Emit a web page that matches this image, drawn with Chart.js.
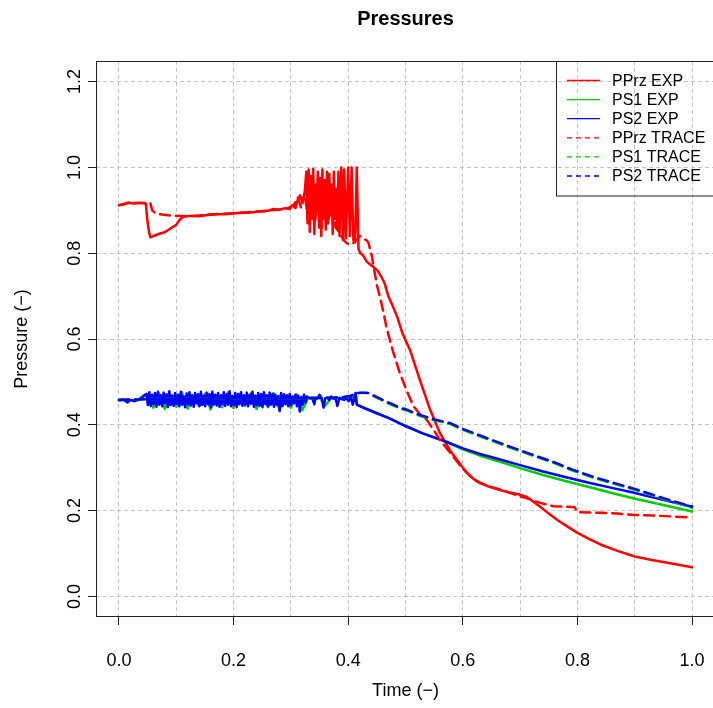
<!DOCTYPE html>
<html>
<head>
<meta charset="utf-8">
<script src="https://cdn.jsdelivr.net/npm/chart.js@4.4.1/dist/chart.umd.min.js"></script>
<style>
  html, body { margin: 0; padding: 0; background: #fff; overflow: hidden; }
  #wrap { position: absolute; left: 0; top: 0; width: 716px; height: 708px; }
</style>
</head>
<body>
<div id="wrap"><canvas id="pressChart" width="716" height="708"></canvas></div>
<script>
// Rótulos dos eixos
const xTickLabels = [0, 0.2, 0.4, 0.6, 0.8, 1.0];
const yTickLabels = [0, 0.2, 0.4, 0.6, 0.8, 1.0, 1.2];
const seriesNames = ['PPrz EXP', 'PS1 EXP', 'PS2 EXP', 'PPrz TRACE', 'PS1 TRACE', 'PS2 TRACE'];

// PPrz EXP (tempo, pressão)
const ppExpT = [0, 0.008, 0.016, 0.024, 0.032, 0.040, 0.047, 0.048, 0.050, 0.053,
  0.055, 0.060, 0.066, 0.072, 0.080, 0.088, 0.095, 0.100, 0.106, 0.112,
  0.125, 0.140, 0.155, 0.170, 0.185, 0.200, 0.215, 0.230, 0.245, 0.260,
  0.270, 0.280, 0.290, 0.298, 0.303, 0.308, 0.312, 0.316, 0.320, 0.324,
  0.327, 0.329, 0.331, 0.333, 0.335, 0.337, 0.339, 0.341, 0.343, 0.345,
  0.347, 0.349, 0.351, 0.353, 0.355, 0.357, 0.359, 0.361, 0.363, 0.365,
  0.367, 0.369, 0.371, 0.373, 0.375, 0.377, 0.379, 0.381, 0.383, 0.385,
  0.388, 0.391, 0.393, 0.396, 0.400, 0.403, 0.406, 0.409, 0.412, 0.415, 0.418,
  0.421, 0.426, 0.432, 0.440, 0.446, 0.452, 0.458, 0.464, 0.470, 0.478,
  0.486, 0.495, 0.508, 0.525, 0.543, 0.560, 0.577, 0.590, 0.600, 0.610,
  0.618, 0.625, 0.635, 0.645, 0.655, 0.668, 0.682, 0.697, 0.712, 0.722,
  0.735, 0.750, 0.765, 0.780, 0.800, 0.820, 0.840, 0.870, 0.900, 0.930, 0.960, 1.000];
const ppExpP = [0.912, 0.914, 0.918, 0.916, 0.917, 0.917, 0.916, 0.900, 0.872, 0.846,
  0.837, 0.840, 0.843, 0.846, 0.849, 0.856, 0.862, 0.866, 0.878, 0.885,
  0.887, 0.886, 0.889, 0.891, 0.891, 0.893, 0.894, 0.895, 0.897, 0.899,
  0.903, 0.901, 0.905, 0.903, 0.912, 0.905, 0.925, 0.935, 0.918, 0.940,
  0.990, 0.870, 0.995, 0.850, 0.980, 0.880, 0.997, 0.845, 0.960, 0.900,
  0.990, 0.860, 0.975, 0.840, 0.995, 0.880, 0.970, 0.855, 0.990, 0.870,
  0.985, 0.900, 0.960, 0.845, 0.990, 0.880, 0.950, 0.860, 0.990, 0.840,
  1.000, 0.830, 0.995, 0.835, 1.000, 0.840, 1.000, 0.830, 0.825, 1.000, 0.810,
  0.800, 0.795, 0.781, 0.772, 0.766, 0.758, 0.745, 0.728, 0.700, 0.676,
  0.650, 0.612, 0.574, 0.505, 0.435, 0.381, 0.342, 0.318, 0.300, 0.284,
  0.275, 0.268, 0.262, 0.256, 0.252, 0.247, 0.242, 0.238, 0.232, 0.222,
  0.209, 0.193, 0.178, 0.165, 0.148, 0.134, 0.121, 0.106, 0.093, 0.085, 0.078, 0.068];

// PS1 EXP
const ps1ExpT = [0, 0.020, 0.035, 0.040, 0.045,
  0.050, 0.060, 0.070, 0.080, 0.090, 0.100, 0.110, 0.120, 0.130, 0.140,
  0.150, 0.160, 0.170, 0.180, 0.190, 0.200, 0.210, 0.220, 0.230, 0.240,
  0.250, 0.260, 0.270, 0.280, 0.290, 0.300, 0.310, 0.320, 0.330,
  0.335, 0.350, 0.360, 0.370, 0.380, 0.390, 0.400, 0.410, 0.413,
  0.415, 0.430, 0.450, 0.470, 0.502, 0.530, 0.570, 0.600, 0.630, 0.665,
  0.700, 0.740, 0.782, 0.820, 0.860, 0.897, 0.940, 1.000];
const ps1ExpP = [0.457, 0.457, 0.458, 0.466, 0.470,
  0.470, 0.440, 0.474, 0.437, 0.468, 0.442, 0.476, 0.438, 0.466, 0.443,
  0.472, 0.436, 0.469, 0.441, 0.475, 0.439, 0.467, 0.444, 0.473, 0.437,
  0.470, 0.441, 0.474, 0.436, 0.466, 0.440, 0.471, 0.434, 0.462,
  0.462, 0.463, 0.445, 0.462, 0.463, 0.460, 0.462, 0.465, 0.474,
  0.447, 0.438, 0.427, 0.416, 0.396, 0.380, 0.361, 0.343, 0.328, 0.314,
  0.299, 0.283, 0.268, 0.255, 0.241, 0.229, 0.216, 0.198];

// PS2 EXP
const ps2ExpT = [0, 0.008, 0.015, 0.020, 0.028, 0.034, 0.040, 0.044,
  0.0480, 0.0505, 0.0530, 0.0555, 0.0580, 0.0605, 0.0630, 0.0655, 0.0680, 0.0705,
  0.0730, 0.0755, 0.0780, 0.0805, 0.0830, 0.0855, 0.0880, 0.0905, 0.0930, 0.0955,
  0.0980, 0.1005, 0.1030, 0.1055, 0.1080, 0.1105, 0.1130, 0.1155, 0.1180, 0.1205,
  0.1230, 0.1255, 0.1280, 0.1305, 0.1330, 0.1355, 0.1380, 0.1405, 0.1430, 0.1455,
  0.1480, 0.1505, 0.1530, 0.1555, 0.1580, 0.1605, 0.1630, 0.1655, 0.1680, 0.1705,
  0.1730, 0.1755, 0.1780, 0.1805, 0.1830, 0.1855, 0.1880, 0.1905, 0.1930, 0.1955,
  0.1980, 0.2005, 0.2030, 0.2055, 0.2080, 0.2105, 0.2130, 0.2155, 0.2180, 0.2205,
  0.2230, 0.2255, 0.2280, 0.2305, 0.2330, 0.2355, 0.2380, 0.2405, 0.2430, 0.2455,
  0.2480, 0.2505, 0.2530, 0.2555, 0.2580, 0.2605, 0.2630, 0.2655, 0.2680, 0.2705,
  0.2730, 0.2755, 0.2780, 0.2805, 0.2830, 0.2855, 0.2880, 0.2905, 0.2930, 0.2955,
  0.2980, 0.3005, 0.3030, 0.3055, 0.3080, 0.3105, 0.3130, 0.3155, 0.3180, 0.3205,
  0.3230, 0.3255, 0.3280,
  0.333, 0.337, 0.341, 0.343, 0.346, 0.350, 0.354, 0.357, 0.360, 0.364,
  0.367, 0.370, 0.374, 0.378, 0.381, 0.385, 0.389, 0.393, 0.397, 0.401,
  0.405, 0.408, 0.411, 0.413,
  0.415, 0.430, 0.450, 0.470, 0.502, 0.530, 0.570, 0.600, 0.630, 0.665,
  0.700, 0.740, 0.782, 0.820, 0.860, 0.897, 0.940, 1.000];
const ps2ExpP = [0.458, 0.459, 0.452, 0.458, 0.455, 0.459, 0.462, 0.468,
  0.472, 0.446, 0.476, 0.444, 0.470, 0.448, 0.474, 0.442, 0.477, 0.447,
  0.469, 0.443, 0.475, 0.450, 0.471, 0.441, 0.478, 0.446, 0.468, 0.444,
  0.474, 0.449, 0.470, 0.443, 0.477, 0.447, 0.466, 0.441, 0.473, 0.448,
  0.476, 0.445, 0.469, 0.442, 0.474, 0.450, 0.471, 0.444, 0.477, 0.446,
  0.468, 0.443, 0.475, 0.448, 0.472, 0.441, 0.477, 0.447, 0.470, 0.445,
  0.474, 0.442, 0.469, 0.449, 0.476, 0.444, 0.471, 0.447, 0.478, 0.443,
  0.467, 0.446, 0.474, 0.441, 0.472, 0.448, 0.476, 0.444, 0.469, 0.447,
  0.475, 0.443, 0.470, 0.449, 0.477, 0.442, 0.468, 0.446, 0.474, 0.444,
  0.471, 0.441, 0.476, 0.448, 0.469, 0.443, 0.475, 0.447, 0.472, 0.442,
  0.470, 0.446, 0.467, 0.432, 0.474, 0.444, 0.471, 0.448, 0.469, 0.443,
  0.472, 0.446, 0.466, 0.450, 0.470, 0.443, 0.468, 0.431, 0.465, 0.447,
  0.470, 0.452, 0.466,
  0.462, 0.463, 0.448, 0.462, 0.461, 0.470, 0.462, 0.440, 0.462, 0.463,
  0.458, 0.466, 0.461, 0.462, 0.444, 0.463, 0.460, 0.458, 0.462, 0.455,
  0.465, 0.447, 0.462, 0.474,
  0.447, 0.438, 0.427, 0.416, 0.396, 0.380, 0.361, 0.345, 0.332, 0.319,
  0.306, 0.291, 0.277, 0.265, 0.253, 0.242, 0.228, 0.209];

// PPrz TRACE
const ppTraceT = [0, 0.010, 0.020, 0.030, 0.045, 0.055, 0.058, 0.064, 0.075, 0.090,
  0.100, 0.120, 0.140, 0.160, 0.180, 0.200, 0.220, 0.240, 0.260, 0.280,
  0.295, 0.305,
  0.312, 0.318, 0.324, 0.330, 0.336, 0.342, 0.348, 0.354, 0.360, 0.366,
  0.372, 0.378, 0.384, 0.390,
  0.396, 0.402, 0.408, 0.414, 0.420, 0.426, 0.432, 0.435, 0.441, 0.444,
  0.450, 0.456, 0.462, 0.467, 0.478, 0.490, 0.502, 0.514, 0.525, 0.537,
  0.548, 0.560, 0.572, 0.583, 0.595, 0.607, 0.618, 0.630, 0.648, 0.665,
  0.683, 0.700, 0.718, 0.735, 0.758, 0.780, 0.795, 0.800, 0.840, 0.870,
  0.900, 0.940, 0.970, 1.000];
const ppTraceP = [0.912, 0.915, 0.918, 0.917, 0.917, 0.916, 0.900, 0.893, 0.890, 0.888,
  0.887, 0.886, 0.888, 0.890, 0.892, 0.893, 0.895, 0.897, 0.899, 0.902,
  0.905, 0.912,
  0.930, 0.905, 0.940, 0.880, 0.960, 0.870, 0.950, 0.860, 0.920, 0.880,
  0.910, 0.860, 0.850, 0.835,
  0.825, 0.820, 0.823, 0.830, 0.840, 0.835, 0.830, 0.826, 0.795, 0.772,
  0.726, 0.695, 0.660, 0.626, 0.572, 0.521, 0.480, 0.443, 0.425, 0.412,
  0.390, 0.365, 0.345, 0.326, 0.306, 0.288, 0.275, 0.264, 0.256, 0.249,
  0.241, 0.233, 0.226, 0.218, 0.210, 0.209, 0.208, 0.196, 0.195, 0.193,
  0.190, 0.188, 0.186, 0.184];

// PS1 TRACE e PS2 TRACE
const psTraceT = [0, 0.05, 0.10, 0.15, 0.20, 0.25, 0.30, 0.33, 0.35, 0.37,
  0.39, 0.405, 0.415, 0.425, 0.435, 0.445, 0.47, 0.49, 0.503, 0.525,
  0.549, 0.578, 0.595, 0.64, 0.682, 0.72, 0.757, 0.79, 0.827, 0.865,
  0.904, 0.95, 1.0];
const ps1TraceP = [0.458, 0.460, 0.461, 0.461, 0.462, 0.461, 0.462, 0.462, 0.463, 0.463,
  0.464, 0.468, 0.474, 0.475, 0.474, 0.466, 0.450, 0.438, 0.433, 0.421,
  0.411, 0.402, 0.391, 0.368, 0.347, 0.329, 0.312, 0.294, 0.277, 0.262,
  0.247, 0.227, 0.207];
const ps2TraceP = [0.458, 0.460, 0.461, 0.461, 0.462, 0.461, 0.462, 0.462, 0.463, 0.463,
  0.464, 0.468, 0.474, 0.475, 0.474, 0.468, 0.452, 0.440, 0.435, 0.423,
  0.413, 0.404, 0.393, 0.370, 0.349, 0.331, 0.314, 0.296, 0.279, 0.264,
  0.249, 0.229, 0.209];

const fontFamily = '"Liberation Sans", Arial, Helvetica, sans-serif';
const RED = '#ff0000', GREEN = '#00cd00', BLUE = '#0000ff';
const DASH = [10, 6];

function pairs(ts, ps) {
  return ts.map((t, i) => ({ x: t, y: ps[i] }));
}

function isLabelled(v, list) {
  return list.some(t => Math.abs(t - v) < 1e-9);
}

const series = [
  { t: ppExpT, p: ppExpP, color: RED, dash: [] },
  { t: ps1ExpT, p: ps1ExpP, color: GREEN, dash: [] },
  { t: ps2ExpT, p: ps2ExpP, color: BLUE, dash: [] },
  { t: ppTraceT, p: ppTraceP, color: RED, dash: DASH },
  { t: psTraceT, p: ps1TraceP, color: GREEN, dash: DASH },
  { t: psTraceT, p: ps2TraceP, color: BLUE, dash: DASH }
];

// R desenha na ordem: a última série fica por cima
const datasets = series.map((s, i) => ({
  label: seriesNames[i],
  data: pairs(s.t, s.p),
  borderColor: s.color,
  backgroundColor: s.color,
  borderWidth: 2.5,
  borderDash: s.dash,
  borderJoinStyle: 'round',
  borderCapStyle: 'round',
  pointRadius: 0,
  fill: false,
  tension: 0,
  order: series.length - i
}));

// Caixa, título, rótulos do eixo y e legenda no estilo do R
const rStyle = {
  id: 'rStyle',
  afterDraw(chart) {
    const { ctx, chartArea: a, scales: { y } } = chart;
    ctx.save();
    ctx.strokeStyle = '#222';
    ctx.lineWidth = 1;
    ctx.setLineDash([]);
    ctx.strokeRect(a.left + 0.5, a.top + 0.5, a.right - a.left - 1, a.bottom - a.top - 1);

    ctx.fillStyle = '#000';
    ctx.font = '18px ' + fontFamily;
    ctx.textAlign = 'center';
    ctx.textBaseline = 'alphabetic';
    yTickLabels.forEach(v => {
      const py = y.getPixelForValue(v);
      ctx.save();
      ctx.translate(79.5, py);
      ctx.rotate(-Math.PI / 2);
      ctx.fillText(v.toFixed(1), 0, 0);
      ctx.restore();
    });

    ctx.font = 'bold 20px ' + fontFamily;
    ctx.fillText('Pressures', (a.left + a.right) / 2, 25);

    // legenda
    const lx = 556.5, ly = 61.5;
    ctx.strokeRect(lx, ly, 170, 134.5);
    ctx.font = '16px ' + fontFamily;
    ctx.textAlign = 'left';
    ctx.textBaseline = 'middle';
    series.forEach((s, i) => {
      const ry = 80.5 + i * 19.1;
      ctx.strokeStyle = s.color;
      ctx.lineWidth = 1.3;
      ctx.setLineDash(s.dash.length ? [5, 4] : []);
      ctx.beginPath();
      ctx.moveTo(567, ry);
      ctx.lineTo(600, ry);
      ctx.stroke();
      ctx.fillStyle = '#000';
      ctx.fillText(seriesNames[i], 612, ry + 1);
    });
    ctx.restore();
  }
};

const ctx = document.getElementById('pressChart').getContext('2d');
const pressChart = new Chart(ctx, {
  type: 'line',
  data: { datasets: datasets },
  options: {
    responsive: false,
    animation: false,
    devicePixelRatio: 1,
    layout: { padding: { top: 61, right: 1, left: 0, bottom: 0 } },
    plugins: {
      legend: { display: false },
      tooltip: { enabled: false },
      title: { display: false }
    },
    scales: {
      x: {
        type: 'linear',
        min: -0.04,
        max: 1.04,
        afterFit: s => { s.height = 91; s.paddingLeft = 0; s.paddingRight = 0; },
        border: { display: false, dash: [4, 3] },
        grid: {
          color: '#c4c4c4',
          lineWidth: 1,
          drawTicks: true,
          tickLength: 8,
          tickWidth: 1,
          tickColor: c => (c.tick && isLabelled(c.tick.value, xTickLabels)) ? '#222' : 'rgba(0,0,0,0)'
        },
        ticks: {
          stepSize: 0.1,
          includeBounds: false,
          autoSkip: false,
          maxRotation: 0,
          padding: 25,
          color: '#000',
          font: { family: fontFamily, size: 18 },
          callback: v => isLabelled(v, xTickLabels) ? v.toFixed(1) : ''
        },
        title: {
          display: true,
          text: 'Time (−)',
          color: '#000',
          font: { family: fontFamily, size: 18 },
          padding: { top: 0, bottom: 6 }
        }
      },
      y: {
        type: 'linear',
        min: -0.048,
        max: 1.248,
        afterFit: s => { s.width = 96; s.paddingTop = 0; s.paddingBottom = 0; },
        border: { display: false, dash: [4, 3] },
        grid: {
          color: '#c4c4c4',
          lineWidth: 1,
          drawTicks: true,
          tickLength: 8,
          tickWidth: 1,
          tickColor: '#222'
        },
        ticks: {
          stepSize: 0.2,
          includeBounds: false,
          display: false
        },
        title: {
          display: true,
          text: 'Pressure (−)',
          color: '#000',
          font: { family: fontFamily, size: 18 },
          padding: { top: 11, bottom: 0 }
        }
      }
    }
  },
  plugins: [rStyle]
});
</script>
</body>
</html>
